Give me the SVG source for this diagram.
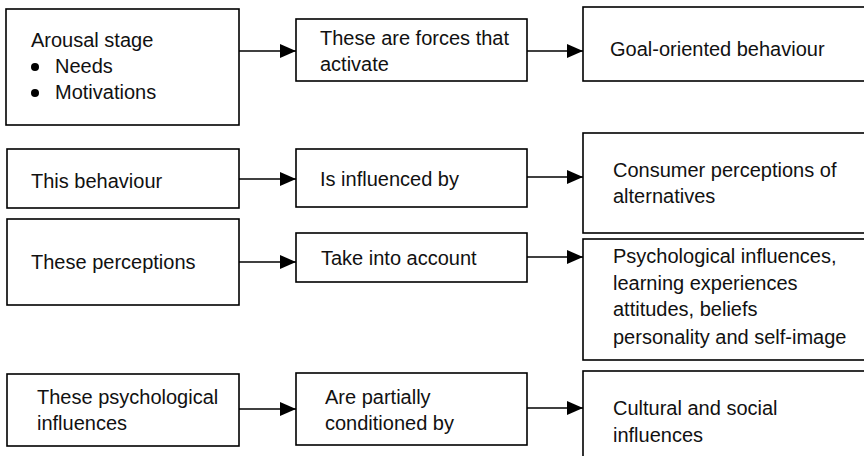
<svg xmlns="http://www.w3.org/2000/svg" width="864" height="456" viewBox="0 0 864 456">
  <style>
    .box { fill: #ffffff; stroke: #000000; stroke-width: 1.6; }
    .lbl { font-family: "Liberation Sans", Arial, sans-serif; font-size: 20px; fill: #111111; }
    .conn { stroke: #000000; stroke-width: 1.6; fill: none; marker-end: url(#head); }
  </style>
  <defs>
    <marker id="head" markerWidth="16" markerHeight="14" refX="16" refY="7" orient="auto" markerUnits="userSpaceOnUse">
      <path d="M0,0 L16,7 L0,14 Z" fill="#000000"/>
    </marker>
  </defs>
  <rect width="864" height="456" fill="#ffffff"/>

  <!-- row 1 -->
  <g id="arousal">
    <rect class="box" x="6" y="9" width="233" height="116"/>
    <text class="lbl" x="31" y="47">Arousal stage</text>
    <circle cx="35" cy="67" r="4" fill="#000000"/>
    <text class="lbl" x="55" y="73">Needs</text>
    <circle cx="35" cy="93" r="4" fill="#000000"/>
    <text class="lbl" x="55" y="99">Motivations</text>
  </g>
  <g id="forces">
    <rect class="box" x="296" y="19" width="231" height="62"/>
    <text class="lbl" x="320" y="45">These are forces that</text>
    <text class="lbl" x="320" y="71">activate</text>
  </g>
  <g id="goal">
    <rect class="box" x="583" y="7" width="290" height="74"/>
    <text class="lbl" x="610" y="56">Goal-oriented behaviour</text>
  </g>

  <!-- row 2 -->
  <g id="behaviour">
    <rect class="box" x="7" y="149" width="232" height="59"/>
    <text class="lbl" x="31" y="188">This behaviour</text>
  </g>
  <g id="influenced">
    <rect class="box" x="296" y="149" width="231" height="58"/>
    <text class="lbl" x="320" y="186">Is influenced by</text>
  </g>
  <g id="perceptions-alt">
    <rect class="box" x="583" y="133" width="290" height="100"/>
    <text class="lbl" x="613" y="177">Consumer perceptions of</text>
    <text class="lbl" x="613" y="203">alternatives</text>
  </g>

  <!-- row 3 -->
  <g id="these-perceptions">
    <rect class="box" x="7" y="219" width="232" height="86"/>
    <text class="lbl" x="31" y="269">These perceptions</text>
  </g>
  <g id="account">
    <rect class="box" x="296" y="233" width="231" height="49"/>
    <text class="lbl" x="321" y="265">Take into account</text>
  </g>
  <g id="psych">
    <rect class="box" x="583" y="239" width="290" height="121"/>
    <text class="lbl" x="613" y="263">Psychological influences,</text>
    <text class="lbl" x="613" y="290">learning experiences</text>
    <text class="lbl" x="613" y="316">attitudes, beliefs</text>
    <text class="lbl" x="613" y="344">personality and self-image</text>
  </g>

  <!-- row 4 -->
  <g id="psych-influences">
    <rect class="box" x="7" y="374" width="232" height="72"/>
    <text class="lbl" x="37" y="404">These psychological</text>
    <text class="lbl" x="37" y="430">influences</text>
  </g>
  <g id="conditioned">
    <rect class="box" x="296" y="373" width="231" height="72"/>
    <text class="lbl" x="325" y="404">Are partially</text>
    <text class="lbl" x="325" y="430">conditioned by</text>
  </g>
  <g id="cultural">
    <rect class="box" x="583" y="371" width="290" height="100"/>
    <text class="lbl" x="613" y="415">Cultural and social</text>
    <text class="lbl" x="613" y="442">influences</text>
  </g>

  <!-- connectors -->
  <g id="connectors">
    <line class="conn" x1="239" y1="51" x2="296" y2="51"/>
    <line class="conn" x1="527" y1="51" x2="583" y2="51"/>
    <line class="conn" x1="239" y1="179" x2="296" y2="179"/>
    <line class="conn" x1="527" y1="177" x2="583" y2="177"/>
    <line class="conn" x1="239" y1="262" x2="296" y2="262"/>
    <line class="conn" x1="527" y1="257" x2="583" y2="257"/>
    <line class="conn" x1="239" y1="409" x2="296" y2="409"/>
    <line class="conn" x1="527" y1="408" x2="583" y2="408"/>
  </g>
</svg>
